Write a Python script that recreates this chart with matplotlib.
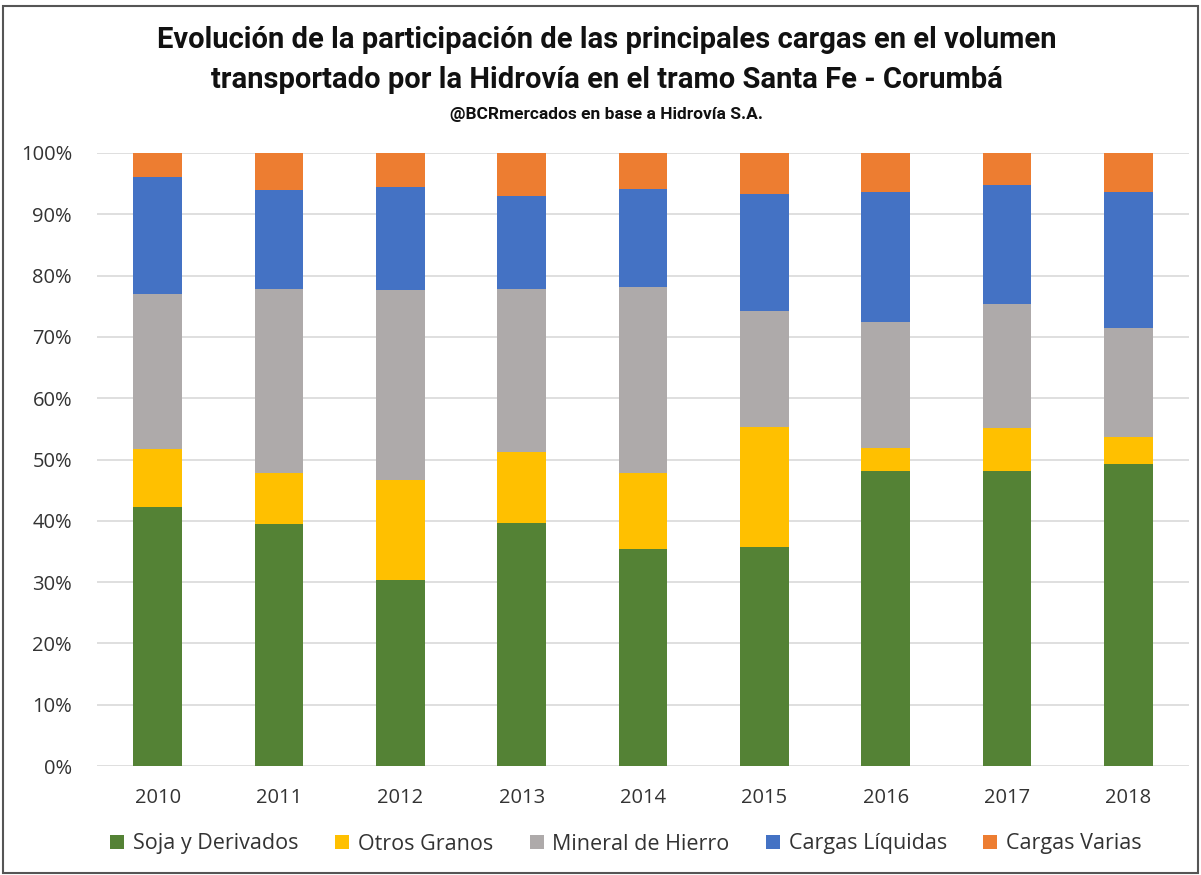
import matplotlib
matplotlib.use("Agg")
import matplotlib.pyplot as plt
from matplotlib import font_manager
from matplotlib.patches import Rectangle

years = ["2010", "2011", "2012", "2013", "2014", "2015", "2016", "2017", "2018"]
soja = [42.3, 39.5, 30.4, 39.7, 35.4, 35.8, 48.1, 48.1, 49.2]
otros = [9.4, 8.3, 16.2, 11.6, 12.4, 19.5, 3.7, 7.1, 4.5]
mineral = [25.3, 30.0, 31.0, 26.5, 30.4, 19.0, 20.6, 20.1, 17.8]
liquidas = [19.1, 16.2, 16.8, 15.2, 15.9, 19.0, 21.3, 19.4, 22.1]
varias = [3.9, 6.0, 5.6, 7.0, 5.9, 6.7, 6.4, 5.3, 6.4]
series_names = ["Soja y Derivados", "Otros Granos", "Mineral de Hierro",
                "Cargas Líquidas", "Cargas Varias"]
colors = ["#548235", "#FFC000", "#AEAAAA", "#4472C4", "#ED7D31"]
title_l1 = "Evolución de la participación de las principales cargas en el volumen"
title_l2 = "transportado por la Hidrovía en el tramo Santa Fe - Corumbá"
subtitle = "@BCRmercados en base a Hidrovía S.A."

avail = {f.name for f in font_manager.fontManager.ttflist}
title_font = "Liberation Sans Narrow" if "Liberation Sans Narrow" in avail else "Roboto"
body_font = "Open Sans" if "Open Sans" in avail else "DejaVu Sans"

W, H = 1201, 875
fig = plt.figure(figsize=(W / 100, H / 100), dpi=100)

# frame
fig.patches.append(Rectangle((3 / W, 2 / H), (W - 6) / W, (H - 8) / H,
                             transform=fig.transFigure, fill=False,
                             edgecolor="#555555", linewidth=1.5))

ax = fig.add_axes([97 / W, (H - 766) / H, (1189 - 97) / W, (766 - 153) / H])

series = [soja, otros, mineral, liquidas, varias]
x = list(range(len(years)))
bottom = [0.0] * len(years)
for vals, name, col in zip(series, series_names, colors):
    fr = [v / 100 for v in vals]
    ax.bar(x, fr, width=0.40, bottom=bottom, color=col, label=name, zorder=3)
    bottom = [b + f for b, f in zip(bottom, fr)]

ax.set_ylim(0, 1)
ax.set_xlim(-0.5, len(years) - 0.5)
ax.set_yticks([i / 10 for i in range(11)])
ax.set_yticklabels([f"{i*10}%" for i in range(11)])
ax.set_xticks(x)
ax.set_xticklabels(years)
ax.grid(axis="y", color="#D9D9D9", linewidth=1.2, zorder=0)
for s in ax.spines.values():
    s.set_visible(False)
ax.tick_params(axis="both", length=0, labelsize=14.5, colors="#333333")
ax.tick_params(axis="y", pad=18)
ax.tick_params(axis="x", pad=16)
for lab in ax.get_xticklabels() + ax.get_yticklabels():
    lab.set_fontfamily(body_font)

fig.text(607 / W, 1 - 40 / H, title_l1, ha="center", va="center",
         fontsize=21, fontweight="bold", family=title_font, color="#111111")
fig.text(607 / W, 1 - 80 / H, title_l2, ha="center", va="center",
         fontsize=21, fontweight="bold", family=title_font, color="#111111")
fig.text(607 / W, 1 - 114 / H, subtitle, ha="center", va="center",
         fontsize=12.5, fontweight="bold", family=title_font, color="#111111")

leg = fig.legend(loc="center", bbox_to_anchor=(626 / W, 1 - 844 / H), ncol=5,
                 frameon=False, handlelength=0.65, handleheight=0.65,
                 handletextpad=0.4, columnspacing=1.7,
                 prop={"family": body_font, "size": 15.5})
for t in leg.get_texts():
    t.set_color("#333333")

fig.savefig("out.png", dpi=100)
